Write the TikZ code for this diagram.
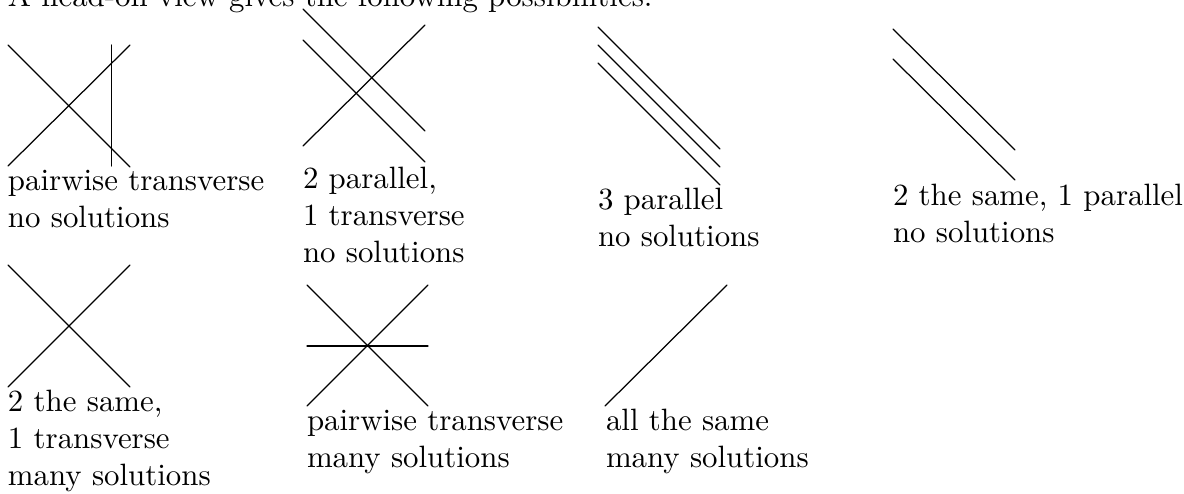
\documentclass[tikz,border=0pt]{standalone}
\begin{document}
\begin{tikzpicture}[x=0.324pt,y=-0.324pt,
  ln/.style={line width=0.4pt,line cap=round},
  lbl/.style={anchor=base west,inner sep=0pt,outer sep=0pt}]
\useasboundingbox (0,0) rectangle (1184,493);
% heading (cut off at the top)
\node[lbl] (head) at (8,6) {A head-on view gives the following possibilities:};
% --- Figure 1: pairwise transverse, no solutions
\coordinate (a1) at (8,45);   \coordinate (a2) at (130,167);
\coordinate (a3) at (8,166);  \coordinate (a4) at (130,45);
\coordinate (a5) at (111.5,45); \coordinate (a6) at (111.5,166);
\draw[ln] (a1) -- (a2); \draw[ln] (a3) -- (a4); \draw[ln] (a5) -- (a6);
\node[lbl] (t1a) at (8,190) {pairwise transverse};
\node[lbl] (t1b) at (8,227) {no solutions};
% --- Figure 2: 2 parallel, 1 transverse
\coordinate (b1) at (303,9);  \coordinate (b2) at (425,131);
\coordinate (b3) at (303,40); \coordinate (b4) at (425,162);
\coordinate (b5) at (303,146); \coordinate (b6) at (425,25);
\draw[ln] (b1) -- (b2); \draw[ln] (b3) -- (b4); \draw[ln] (b5) -- (b6);
\node[lbl] (t2a) at (303,188) {2 parallel,};
\node[lbl] (t2b) at (303,225) {1 transverse};
\node[lbl] (t2c) at (303,262) {no solutions};
% --- Figure 3: 3 parallel
\coordinate (c1) at (598,27); \coordinate (c2) at (720,149);
\coordinate (c3) at (598,45); \coordinate (c4) at (720,167);
\coordinate (c5) at (598,63); \coordinate (c6) at (720,185);
\draw[ln] (c1) -- (c2); \draw[ln] (c3) -- (c4); \draw[ln] (c5) -- (c6);
\node[lbl] (t3a) at (598,209) {3 parallel};
\node[lbl] (t3b) at (598,246) {no solutions};
% --- Figure 4: 2 the same, 1 parallel
\coordinate (d1) at (893,29); \coordinate (d2) at (1015,150);
\coordinate (d3) at (893,59); \coordinate (d4) at (1015,180);
\draw[ln] (d1) -- (d2); \draw[ln] (d3) -- (d4);
\node[lbl] (t4a) at (893,205) {2 the same, 1 parallel};
\node[lbl] (t4b) at (893,242) {no solutions};
% --- Figure 5: 2 the same, 1 transverse
\coordinate (e1) at (8,265); \coordinate (e2) at (130,387);
\coordinate (e3) at (8,387); \coordinate (e4) at (130,265);
\draw[ln] (e1) -- (e2); \draw[ln] (e3) -- (e4);
\node[lbl] (t5a) at (8,411) {2 the same,};
\node[lbl] (t5b) at (8,448) {1 transverse};
\node[lbl] (t5c) at (8,485) {many solutions};
% --- Figure 6: pairwise transverse, many solutions
\coordinate (f1) at (307,285); \coordinate (f2) at (428,406);
\coordinate (f3) at (307,406); \coordinate (f4) at (428,285);
\coordinate (f5) at (307,346); \coordinate (f6) at (428,346);
\draw[ln] (f1) -- (f2); \draw[ln] (f3) -- (f4); \draw[ln] (f5) -- (f6);
\node[lbl] (t6a) at (307,430) {pairwise transverse};
\node[lbl] (t6b) at (307,467) {many solutions};
% --- Figure 7: all the same
\coordinate (g1) at (605,406); \coordinate (g2) at (727,285);
\draw[ln] (g1) -- (g2);
\node[lbl] (t7a) at (606,430) {all the same};
\node[lbl] (t7b) at (606,467) {many solutions};
\end{tikzpicture}
\end{document}
